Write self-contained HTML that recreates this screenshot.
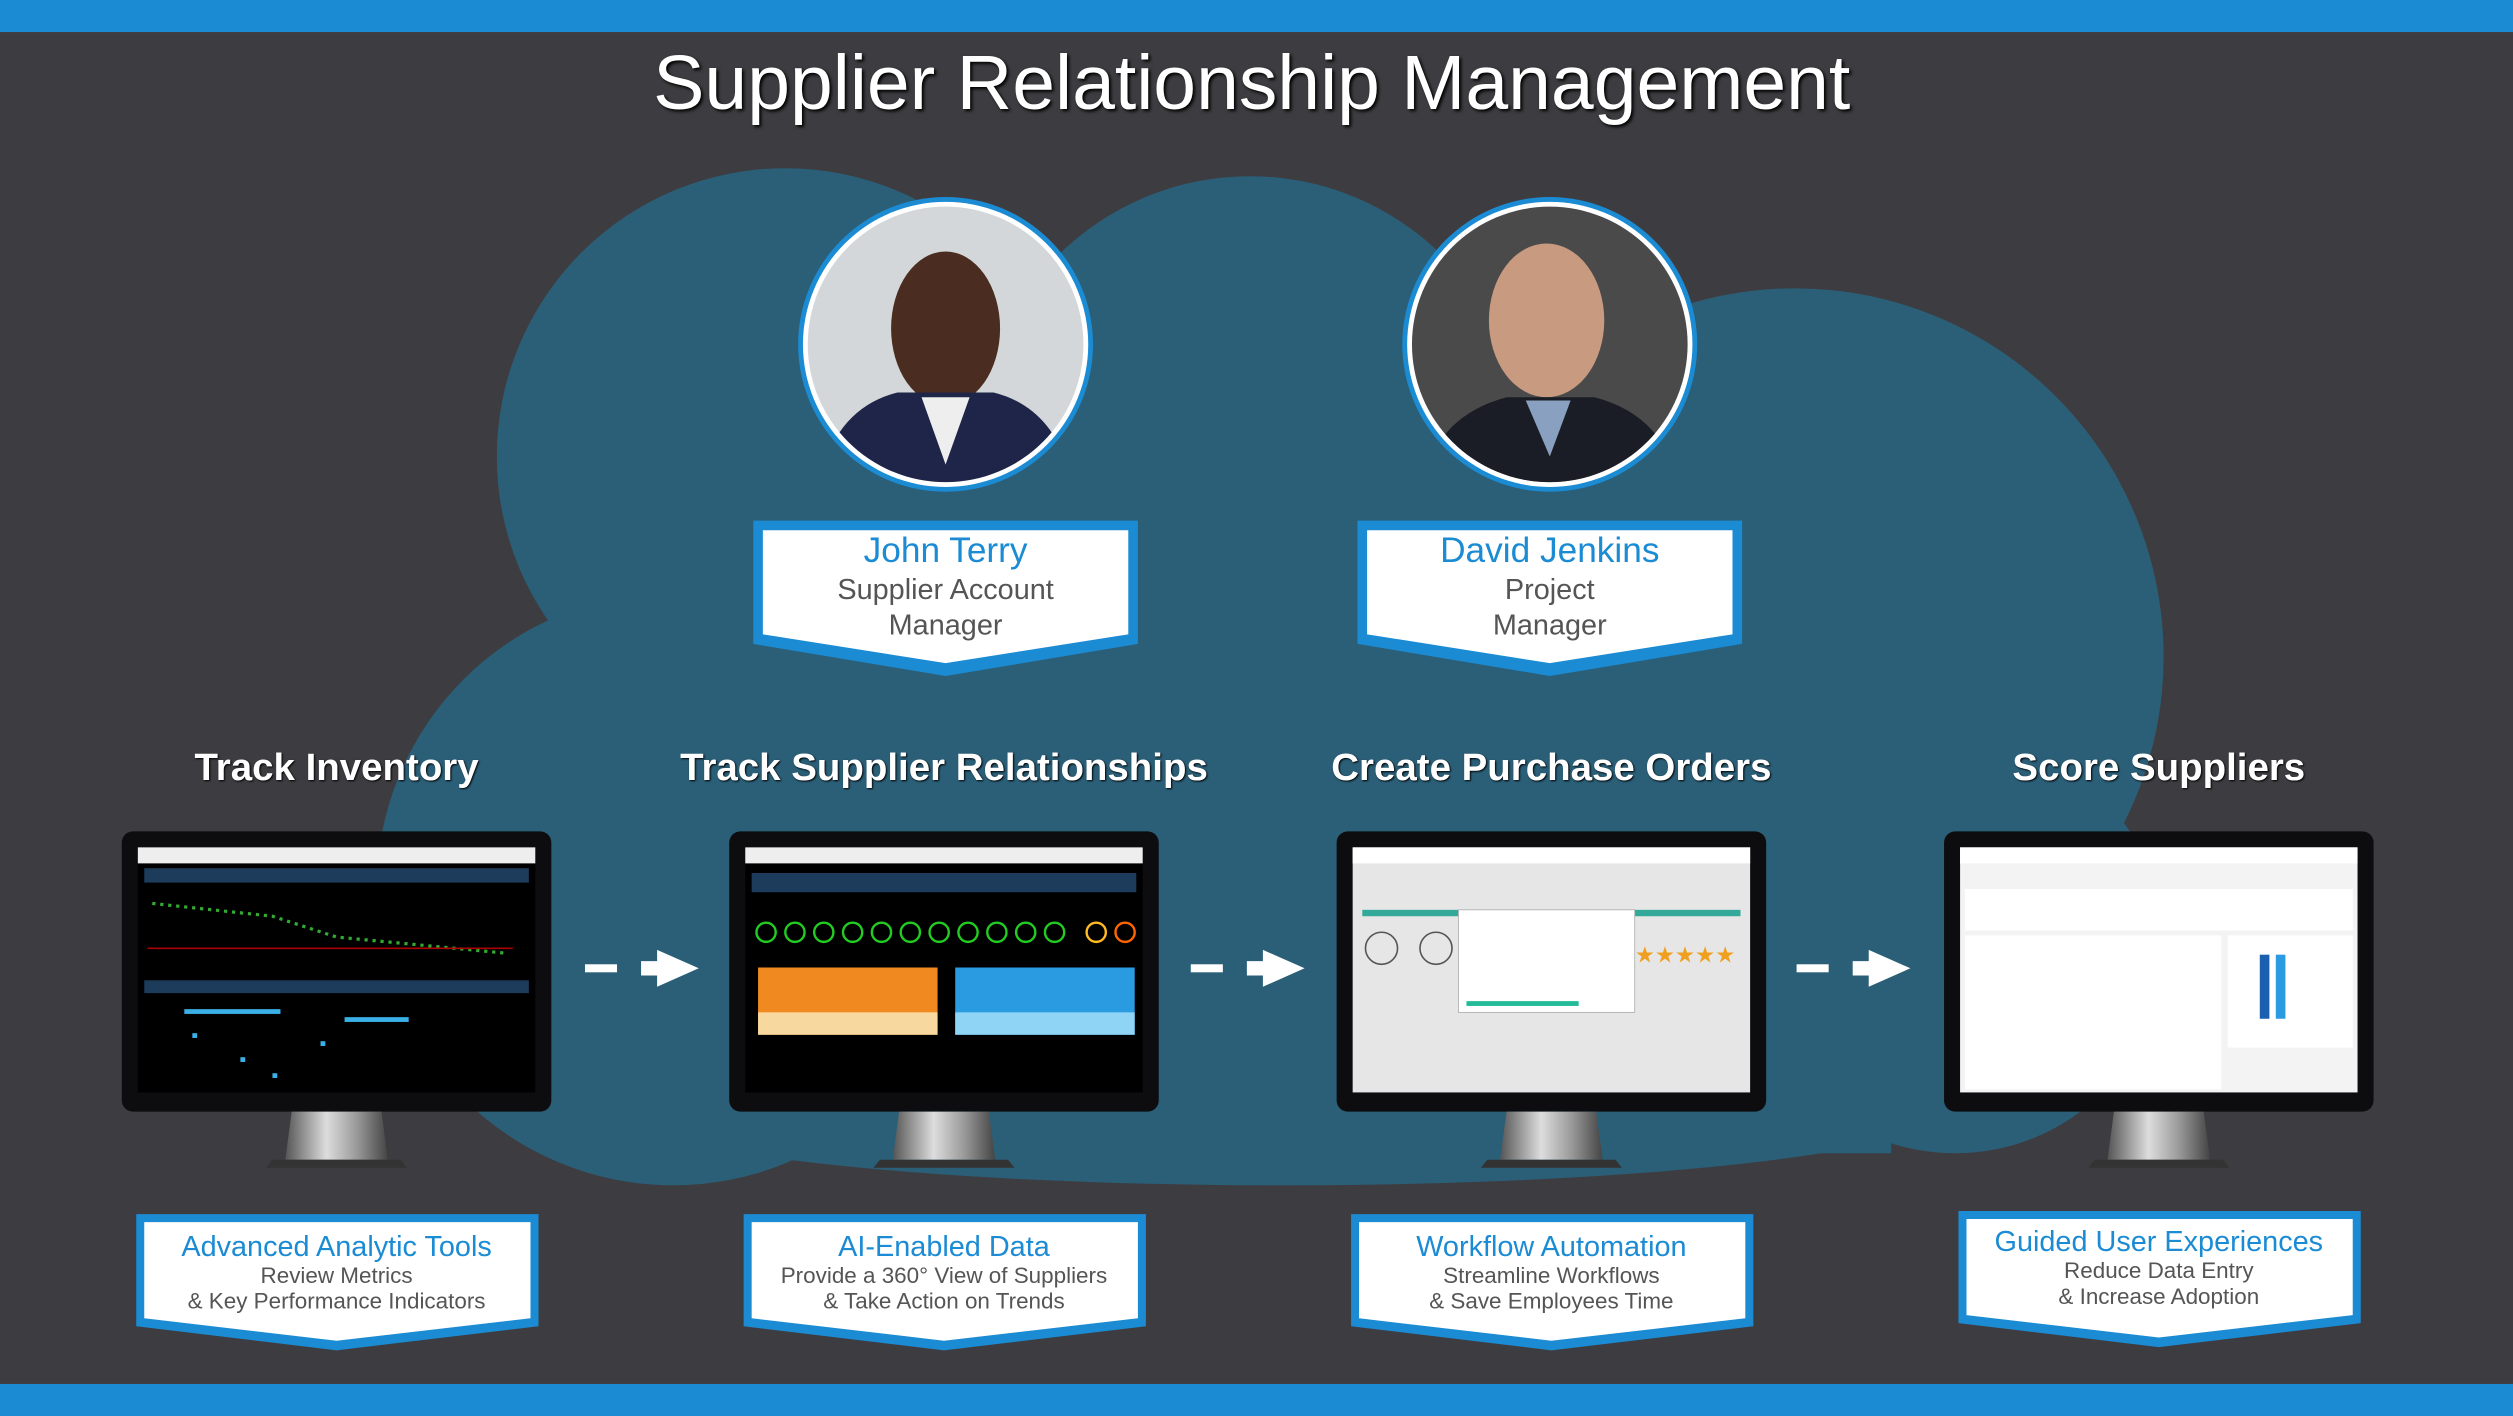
<!DOCTYPE html>
<html><head><meta charset="utf-8"><style>
html,body{margin:0;padding:0;background:#3d3d41;}
svg{display:block;}
text{font-family:"Liberation Sans",sans-serif;}
</style></head><body>
<svg width="2513" height="1416" viewBox="0 0 1568 884" preserveAspectRatio="none" xmlns="http://www.w3.org/2000/svg">
<defs>
<clipPath id="c1"><circle cx="590" cy="215" r="86"/></clipPath>
<clipPath id="c2"><circle cx="967" cy="215" r="86"/></clipPath>
<linearGradient id="st" x1="0" x2="1"><stop offset="0" stop-color="#555"/><stop offset="0.4" stop-color="#ddd"/><stop offset="0.7" stop-color="#999"/><stop offset="1" stop-color="#444"/></linearGradient>
<g id="mon">
<rect x="-134" y="0" width="268" height="175" rx="7" fill="#0d0d0f"/>
<path d="M-28 175 L28 175 L32 205 L-32 205 Z" fill="url(#st)"/>
<path d="M-40 205 L40 205 L44 210 L-44 210 Z" fill="#333"/>
</g>
</defs>
<rect width="1568" height="884" fill="#3d3d41"/>
<rect width="1568" height="20" fill="#1b8bd4"/>
<rect y="864" width="1568" height="20" fill="#1b8bd4"/>
<!-- cloud -->
<g fill="#2b5f78">
<circle cx="490" cy="285" r="180"/>
<circle cx="780" cy="280" r="170"/>
<circle cx="1120" cy="410" r="230"/>
<circle cx="420" cy="555" r="185"/>
<circle cx="1220" cy="590" r="130"/>
<rect x="420" y="260" width="760" height="460"/>
<ellipse cx="800" cy="690" rx="420" ry="50"/>
</g>
<text x="781" y="68" text-anchor="middle" font-size="48" fill="#fff" style="text-shadow:2px 2px 3px #000">Supplier Relationship Management</text>
<!-- photos -->
<circle cx="590" cy="215" r="92" fill="#1b8bd4"/><circle cx="590" cy="215" r="89" fill="#fff"/>
<g clip-path="url(#c1)"><rect x="500" y="125" width="180" height="180" fill="#d3d7d9"/>
<ellipse cx="590" cy="205" rx="34" ry="48" fill="#4a2d20"/><path d="M510 305 Q520 255 560 245 L620 245 Q660 255 670 305 Z" fill="#1e2548"/><path d="M575 248 L605 248 L590 290 Z" fill="#eee"/></g>
<circle cx="967" cy="215" r="92" fill="#1b8bd4"/><circle cx="967" cy="215" r="89" fill="#fff"/>
<g clip-path="url(#c2)"><rect x="877" y="125" width="180" height="180" fill="#4a4a4a"/>
<ellipse cx="965" cy="200" rx="36" ry="48" fill="#c89a80"/><path d="M887 305 Q895 260 940 248 L995 248 Q1040 260 1047 305 Z" fill="#1a1d25"/><path d="M952 250 L980 250 L967 285 Z" fill="#8aa0c0"/></g>
<!-- name boxes -->
<g>
<path d="M470 325 L710 325 L710 402 L590 422 L470 402 Z" fill="#1b8bd4"/>
<path d="M476 331 L704 331 L704 396 L590 414 L476 396 Z" fill="#fff"/>
<text x="590" y="351" text-anchor="middle" font-size="22" fill="#1b8bd4">John Terry</text>
<text x="590" y="374" text-anchor="middle" font-size="18" fill="#555">Supplier Account</text>
<text x="590" y="396" text-anchor="middle" font-size="18" fill="#555">Manager</text>
<path d="M847 325 L1087 325 L1087 402 L967 422 L847 402 Z" fill="#1b8bd4"/>
<path d="M853 331 L1081 331 L1081 396 L967 414 L853 396 Z" fill="#fff"/>
<text x="967" y="351" text-anchor="middle" font-size="22" fill="#1b8bd4">David Jenkins</text>
<text x="967" y="374" text-anchor="middle" font-size="18" fill="#555">Project</text>
<text x="967" y="396" text-anchor="middle" font-size="18" fill="#555">Manager</text>
</g>
<!-- headings -->
<g font-size="24" font-weight="bold" fill="#fff" text-anchor="middle" style="text-shadow:1px 1px 2px #000">
<text x="210" y="487">Track Inventory</text>
<text x="589" y="487">Track Supplier Relationships</text>
<text x="968" y="487">Create Purchase Orders</text>
<text x="1347" y="487">Score Suppliers</text>
</g>
<!-- monitors -->
<use href="#mon" x="210" y="519"/><use href="#mon" x="589" y="519"/><use href="#mon" x="968" y="519"/><use href="#mon" x="1347" y="519"/>
<!-- screen 1 -->
<rect x="86" y="529" width="248" height="153" fill="#000"/>
<rect x="86" y="529" width="248" height="10" fill="#eee"/>
<rect x="90" y="542" width="240" height="9" fill="#1d3b5a"/>
<path d="M95 564 L170 572 L210 585 L315 595" stroke="#3a3" stroke-width="2" stroke-dasharray="2 3" fill="none"/>
<line x1="92" y1="592" x2="320" y2="592" stroke="#a00"/>
<rect x="90" y="612" width="240" height="8" fill="#1d3b5a"/>
<g fill="#3ab0e6"><rect x="115" y="630" width="60" height="3"/><rect x="120" y="645" width="3" height="3"/><rect x="150" y="660" width="3" height="3"/><rect x="200" y="650" width="3" height="3"/><rect x="170" y="670" width="3" height="3"/><rect x="215" y="635" width="40" height="3"/></g>
<!-- screen 2 -->
<rect x="465" y="529" width="248" height="153" fill="#000"/>
<rect x="465" y="529" width="248" height="10" fill="#eee"/>
<rect x="469" y="545" width="240" height="12" fill="#1d3b5a"/>
<g fill="none" stroke="#2c2" stroke-width="1.5"><circle cx="478" cy="582" r="6"/><circle cx="496" cy="582" r="6"/><circle cx="514" cy="582" r="6"/><circle cx="532" cy="582" r="6"/><circle cx="550" cy="582" r="6"/><circle cx="568" cy="582" r="6"/><circle cx="586" cy="582" r="6"/><circle cx="604" cy="582" r="6"/><circle cx="622" cy="582" r="6"/><circle cx="640" cy="582" r="6"/><circle cx="658" cy="582" r="6"/><circle cx="684" cy="582" r="6" stroke="#fb2"/><circle cx="702" cy="582" r="6" stroke="#f60"/></g>
<rect x="473" y="604" width="112" height="42" fill="#f08a20"/>
<rect x="596" y="604" width="112" height="42" fill="#2a9be0"/>
<rect x="473" y="632" width="112" height="14" fill="#f7d9a0"/>
<rect x="596" y="632" width="112" height="14" fill="#8fd3f5"/>
<!-- screen 3 -->
<rect x="844" y="529" width="248" height="153" fill="#e6e6e6"/>
<rect x="844" y="529" width="248" height="10" fill="#fff"/>
<rect x="850" y="568" width="236" height="4" fill="#3a9"/>
<rect x="910" y="568" width="110" height="64" fill="#fff" stroke="#aaa" stroke-width="0.5"/>
<rect x="915" y="625" width="70" height="3" fill="#2b9"/>
<text x="1020" y="601" font-size="14" fill="#f0a020">★★★★★</text>
<circle cx="862" cy="592" r="10" fill="none" stroke="#555"/><circle cx="896" cy="592" r="10" fill="none" stroke="#555"/>
<!-- screen 4 -->
<rect x="1223" y="529" width="248" height="153" fill="#f3f3f3"/>
<rect x="1223" y="529" width="248" height="10" fill="#fff"/>
<rect x="1226" y="555" width="242" height="26" fill="#fff"/>
<rect x="1226" y="584" width="160" height="96" fill="#fff"/>
<rect x="1390" y="584" width="78" height="70" fill="#fff"/>
<rect x="1410" y="596" width="6" height="40" fill="#1b5fb0"/><rect x="1420" y="596" width="6" height="40" fill="#2a9be0"/>
<!-- arrows -->
<g fill="#fff">
<rect x="365" y="602" width="20" height="5"/><path d="M400 600 L410 600 L410 593 L436 604.5 L410 616 L410 609 L400 609 Z"/>
<rect x="743" y="602" width="20" height="5"/><path d="M778 600 L788 600 L788 593 L814 604.5 L788 616 L788 609 L778 609 Z"/>
<rect x="1121" y="602" width="20" height="5"/><path d="M1156 600 L1166 600 L1166 593 L1192 604.5 L1166 616 L1166 609 L1156 609 Z"/>
</g>
<!-- bottom boxes -->
<g>
<path d="M85 758 L336 758 L336 828 L210 843 L85 828 Z" fill="#1b8bd4"/>
<path d="M90 763 L331 763 L331 823 L210 837 L90 823 Z" fill="#fff"/>
<path d="M464 758 L715 758 L715 828 L589 843 L464 828 Z" fill="#1b8bd4"/>
<path d="M469 763 L710 763 L710 823 L589 837 L469 823 Z" fill="#fff"/>
<path d="M843 758 L1094 758 L1094 828 L968 843 L843 828 Z" fill="#1b8bd4"/>
<path d="M848 763 L1089 763 L1089 823 L968 837 L848 823 Z" fill="#fff"/>
<path d="M1222 756 L1473 756 L1473 826 L1347 841 L1222 826 Z" fill="#1b8bd4"/>
<path d="M1227 761 L1468 761 L1468 821 L1347 835 L1227 821 Z" fill="#fff"/>
</g>
<g text-anchor="middle">
<text x="210" y="784" font-size="18" fill="#1b8bd4">Advanced Analytic Tools</text>
<text x="210" y="801" font-size="14" fill="#555">Review Metrics</text>
<text x="210" y="817" font-size="14" fill="#555">&amp; Key Performance Indicators</text>
<text x="589" y="784" font-size="18" fill="#1b8bd4">AI-Enabled Data</text>
<text x="589" y="801" font-size="14" fill="#555">Provide a 360° View of Suppliers</text>
<text x="589" y="817" font-size="14" fill="#555">&amp; Take Action on Trends</text>
<text x="968" y="784" font-size="18" fill="#1b8bd4">Workflow Automation</text>
<text x="968" y="801" font-size="14" fill="#555">Streamline Workflows</text>
<text x="968" y="817" font-size="14" fill="#555">&amp; Save Employees Time</text>
<text x="1347" y="781" font-size="18" fill="#1b8bd4">Guided User Experiences</text>
<text x="1347" y="798" font-size="14" fill="#555">Reduce Data Entry</text>
<text x="1347" y="814" font-size="14" fill="#555">&amp; Increase Adoption</text>
</g>
</svg>
</body></html>
